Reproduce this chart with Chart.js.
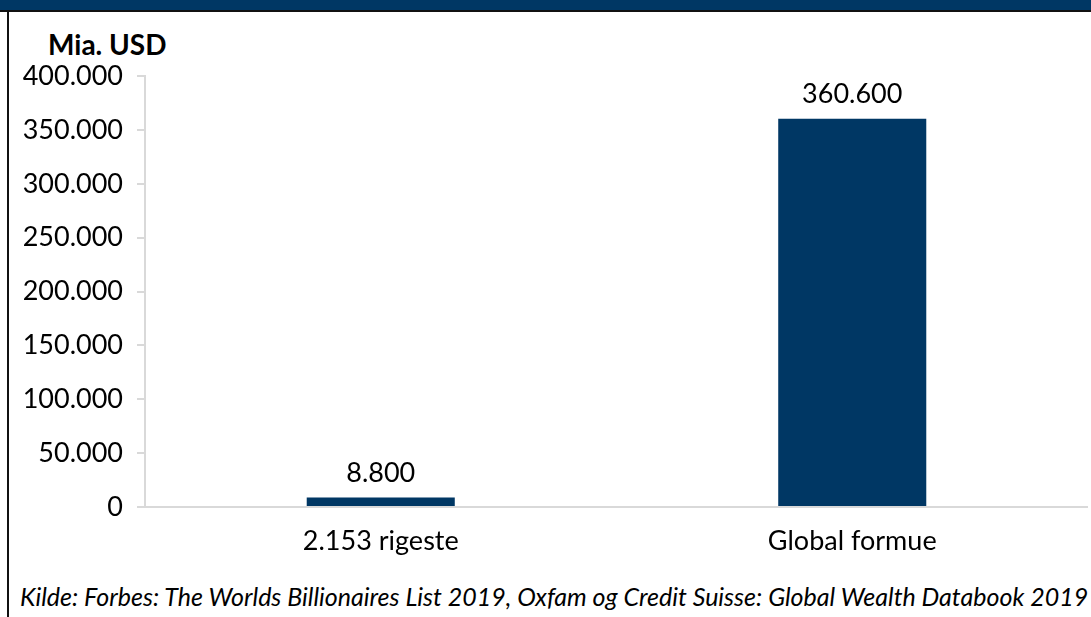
<!DOCTYPE html>
<html>
<head>
<meta charset="utf-8">
<script src="https://cdn.jsdelivr.net/npm/chart.js@4"></script>
<style>
  html, body { margin: 0; padding: 0; background: #fff; }
  body { width: 1091px; height: 617px; position: relative; overflow: hidden; font-family: Lato, sans-serif; }
  #band { position: absolute; left: 0; top: 0; width: 1091px; height: 10px; background: #003764; border-bottom: 2px solid #111; }
  #frame { position: absolute; left: 7px; top: 12px; width: 2px; height: 605px; background: #111; }
  #unit { position: absolute; left: 48px; top: 27px; font-size: 28px; font-weight: bold; color: #000; }
  #wrap { position: absolute; left: 10px; top: 46px; width: 1078px; height: 524px; }
  #source { position: absolute; left: 20px; top: 581px; font-size: 25px; font-style: italic; color: #000; white-space: nowrap; }
</style>
</head>
<body>
<div id="band"></div>
<div id="frame"></div>
<div id="unit">Mia. USD</div>
<div id="wrap"><canvas id="wealthChart"></canvas></div>
<div id="source">Kilde: Forbes: The Worlds Billionaires List 2019, Oxfam og Credit Suisse: Global Wealth Databook 2019</div>
<script>
const categories = ['2.153 rigeste', 'Global formue'];
const wealth = [8800, 360600];
const yTicks = [0, 50000, 100000, 150000, 200000, 250000, 300000, 350000, 400000];

const fmt = v => String(v).replace(/\B(?=(\d{3})+(?!\d))/g, '.');

// value labels above bars
const barLabels = {
  id: 'barLabels',
  afterDatasetsDraw(chart) {
    const ctx = chart.ctx;
    ctx.save();
    ctx.font = "27px Lato";
    ctx.fillStyle = '#000';
    ctx.textAlign = 'center';
    ctx.textBaseline = 'bottom';
    chart.getDatasetMeta(0).data.forEach((bar, i) => {
      ctx.fillText(fmt(wealth[i]), bar.x, bar.y - 11);
    });
    ctx.restore();
  }
};

new Chart(document.getElementById('wealthChart'), {
  type: 'bar',
  data: {
    labels: categories,
    datasets: [{
      data: wealth,
      backgroundColor: '#003764',
      barPercentage: 0.314,
      categoryPercentage: 1
    }]
  },
  plugins: [barLabels],
  options: {
    responsive: true,
    maintainAspectRatio: false,
    animation: false,
    layout: { padding: { top: 19, right: 0, bottom: 0, left: 0 } },
    plugins: { legend: { display: false }, tooltip: { enabled: false } },
    scales: {
      x: {
        grid: { display: false },
        border: { color: '#d9d9d9', width: 2 },
        ticks: { font: { family: 'Lato', size: 27 }, color: '#000', padding: 10 },
        afterFit: s => { s.height = 63; }
      },
      y: {
        min: 0,
        max: 400000,
        afterBuildTicks: s => { s.ticks = yTicks.map(v => ({ value: v })); },
        grid: { drawOnChartArea: false, tickLength: 8, color: '#d9d9d9', lineWidth: 2 },
        border: { color: '#d9d9d9', width: 2 },
        ticks: {
          font: { family: 'Lato', size: 27 },
          color: '#000',
          padding: 14,
          callback: v => fmt(v)
        },
        afterFit: s => { s.width = 135; }
      }
    }
  }
});
</script>
</body>
</html>
